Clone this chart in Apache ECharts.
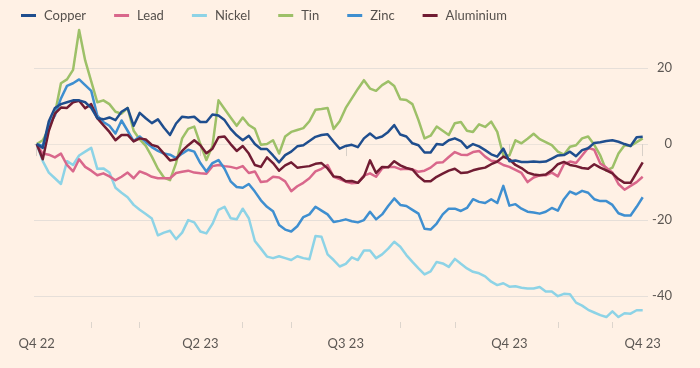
<!DOCTYPE html>
<html><head><meta charset="utf-8">
<style>html,body{margin:0;padding:0;background:#fff1e5;}#c{width:700px;height:368px;}</style>
<script src="https://cdn.jsdelivr.net/npm/echarts@6/dist/echarts.min.js"></script>
</head><body><div id="c"></div>
<script>
const seriesNames = ['Copper','Lead','Nickel','Tin','Zinc','Aluminium'];
const copper = [0,-1,6,9.5,10.5,11,11.5,11.5,11,9.5,6.8,6.5,7,6.3,8.5,9.5,4.8,8.2,6.8,5.5,6.5,4.3,2.4,5.4,7.2,7,7.2,5.8,5.8,7.8,7.5,6.3,4,2.3,1,2.2,0,-1.3,-1.3,-3,-4.8,-2.9,-2,-0.6,-0.3,0.8,1.9,2.4,2.6,0.6,-1.2,-0.5,-0.2,-0.8,1.5,2.8,1.5,2,3.2,5,2.5,2,0.2,-0.3,-2.2,-2.2,0,-0.2,1,1.5,0.8,-1,0,-0.6,-1.6,-2.7,-3.3,-1.2,-4.5,-4.3,-4.7,-4.7,-4.6,-4.7,-4.6,-3.8,-3,-2.9,-2,-3.2,-1.6,-1.1,0.3,0.5,0.8,1,0.6,0,-0.5,1.8,1.9];
const lead = [0,-2.5,-2.8,-3.5,-2.5,-5.5,-7.2,-4,-6,-7,-8.2,-7.7,-8.5,-9.5,-8.6,-7.5,-9,-7.2,-7.8,-8.6,-9,-9,-9,-7.6,-7.3,-7,-7.5,-7.7,-7.8,-5.8,-5.5,-5.8,-6,-6.4,-5.8,-7.6,-7.2,-10,-9.8,-8.6,-8.8,-9.8,-12.4,-11.1,-10.2,-9,-7.2,-6.5,-5.5,-8.6,-9.2,-9.9,-10.3,-10.2,-8.3,-7.7,-8.6,-6.4,-6,-6,-6.6,-6.5,-6.7,-7.3,-7,-6.2,-4.9,-4.8,-3.4,-2.1,-2.8,-2.9,-2.1,-1.8,-3.3,-4.4,-4.6,-5.5,-6,-6.8,-7.6,-10,-8.8,-8.2,-8.2,-7.5,-8.5,-5.3,-4.6,-5,-3,-1,-1.5,-5.1,-6.2,-7.5,-10.5,-12,-11,-10,-8.6];
const nickel = [0,-4.5,-7.5,-9,-10.5,-4.5,-5.5,-3,-2,-1,-6.5,-6.4,-7.5,-11.5,-12.8,-14,-16,-17.3,-18.4,-19.6,-24,-23.3,-22.8,-25,-23.3,-20,-20.6,-23,-23.5,-21,-17.3,-16.5,-19.5,-19.8,-17,-19.5,-25.5,-27.5,-29.6,-30,-29.5,-30,-30.5,-29.5,-30,-30.3,-24.2,-24.4,-29,-30.5,-32.2,-31.5,-29.8,-30.5,-28,-28,-30,-29,-27.5,-25.7,-27,-29.2,-31,-32.7,-34.3,-33.5,-31,-31.4,-32.3,-30.2,-31.5,-32.7,-33.6,-34,-34.8,-36.2,-37.1,-36.6,-37.5,-37.4,-37.8,-38,-38,-37.6,-38.8,-38.8,-40,-39.4,-39.5,-41.7,-42.5,-43.6,-44.3,-45,-45.5,-44,-45.5,-44.5,-44.6,-43.7,-43.7];
const tin = [0,1,4,8,16,17,19.5,30,22,16.5,11,11.5,10.5,8.5,8,9.5,3.5,1.2,-0.5,-3.3,-6.5,-8.8,-9.5,-5,1.5,4,4.6,0,-4.2,-0.5,11.5,9.2,7,4.8,7,5,4,-0.2,0,1,-2.5,2,3.2,3.7,4.2,6,9,9.2,9.5,4,6,9.5,12,14.5,16.8,14.6,14,15.5,16.5,15.3,11.8,11.6,10.5,6.3,1.5,2.2,4.6,3.5,2.4,5.5,5.8,3.5,3.2,5.2,4.5,5.9,3.2,-3,-3,1,0.2,1.4,2.7,1.3,0.5,-0.3,-2,-2.8,-0.7,-0.3,1.5,2,-0.2,-3,-7,-6.2,-2.5,-0.3,-0.5,0.5,1.5];
const zinc = [0,-0.5,5,7.5,12,15.3,16,17,15.5,14,7.5,5.8,4.8,2.8,6.2,3.5,0.8,2,0.5,-0.8,-1.8,-2.5,-2.8,-3.7,-2.5,-1.5,-2,-5,-7.2,-5,-4.2,-6.5,-9.8,-11.3,-11.5,-10.5,-12.5,-14.8,-16.5,-17.7,-21.3,-22.5,-23,-21.6,-19.2,-18.5,-16.5,-17.5,-18.5,-20.5,-20.2,-19.8,-20.3,-20.6,-20,-17.8,-19.8,-18.5,-16.3,-14.3,-16,-16.3,-17.3,-18.3,-22.3,-22.5,-20.9,-18.5,-17,-17,-17.6,-16.8,-14.5,-15.2,-15.5,-14.5,-15.5,-11,-16.2,-15.8,-17,-17.8,-18,-18.3,-17.8,-16.8,-17.5,-14.5,-12.5,-13.2,-12.3,-12.8,-14.5,-15,-15,-16,-18.2,-18.8,-18.8,-16.5,-14];
const aluminium = [0,-4,3.5,8,9.6,9.5,11,11.4,9.4,10.5,6.8,5,3.2,1,2.4,2.4,0.7,1.5,1.2,-0.2,-0.7,-2.5,-4.3,-4,-1.8,-0.3,1,-0.3,-2.4,-1.2,1.8,2,0,-1.8,-0.5,-2.5,-5.5,-6,-3.5,-5,-7,-5.6,-4.8,-6.2,-6,-5.8,-5.2,-5,-6.4,-8.5,-8.7,-9.8,-9.7,-10.2,-8.5,-4.3,-7.6,-6,-6.1,-4.5,-5.6,-6.3,-6.7,-8.5,-9.8,-9.8,-8.6,-7.8,-7,-6.5,-7.6,-7.5,-6.9,-6.5,-6.2,-5.3,-4.6,-3.3,-4,-5.5,-6.3,-7.5,-8,-8.2,-8,-6.9,-5.3,-4.7,-5.5,-5.8,-6.3,-6.5,-5.3,-6.2,-6.9,-7.7,-9.2,-10.2,-10.2,-7.5,-4.8];
const seriesValues = [copper, lead, nickel, tin, zinc, aluminium];
const seriesColors = ['#1f4e8e','#d9678b','#8dd3e6','#9dc068','#3f8fd0','#711c33'];
const seriesZ = [6,3,1,2,4,5];
const categories = copper.map((_, i) => String(i));
const majorTickIdx = [0,27,51,78,100];
const majorTickLabels = ['Q4 22','Q2 23','Q3 23','Q4 23','Q4 23'];
const minorTickIdx = [9,17,34,42,60,69,86,95];
const yMin = -46.8, yMax = 32;

const FONT = 'Lato';
const TEXT = '#5c5753';
const chart = echarts.init(document.getElementById('c'), null, {renderer: 'canvas'});
chart.setOption({
  backgroundColor: '#fff1e5',
  animation: false,
  textStyle: {fontFamily: FONT},
  legend: {
    left: 16, top: 4, icon: 'rect', itemWidth: 15, itemHeight: 3, itemGap: 28,
    data: seriesNames,
    textStyle: {fontFamily: FONT, fontSize: 13, color: '#55504c', padding: [0,0,0,3]}
  },
  grid: [
    {left: 36.7, right: 57.3, top: 22.4, bottom: 46, outerBoundsMode: 'none'},
    {left: 34, right: 52, top: 22.4, bottom: 46, outerBoundsMode: 'none'}
  ],
  xAxis: [
    {
      type: 'category', gridIndex: 0, data: categories, boundaryGap: false, position: 'bottom',
      axisLine: {show: true, lineStyle: {color: '#ece3da', width: 1}},
      axisTick: {show: true, length: 12, lineStyle: {color: '#d8d0c8'},
        interval: (i) => majorTickIdx.includes(i)},
      axisLabel: {show: true, margin: 15, fontFamily: FONT, fontSize: 13, color: TEXT,
        interval: (i) => majorTickIdx.includes(i),
        formatter: (v, i) => { const k = majorTickIdx.indexOf(i); return k >= 0 ? majorTickLabels[k] : ''; }},
      splitLine: {show: false}
    },
    {
      type: 'category', gridIndex: 0, data: categories, boundaryGap: false, position: 'bottom',
      axisLine: {show: false},
      axisTick: {show: true, length: 6, lineStyle: {color: '#ddd5cd'},
        interval: (i) => minorTickIdx.includes(i)},
      axisLabel: {show: false}, splitLine: {show: false}
    },
    {type: 'value', gridIndex: 1, min: 0, max: 1, show: false}
  ],
  yAxis: [
    {type: 'value', gridIndex: 0, min: yMin, max: yMax, show: false, splitLine: {show: false}},
    {
      type: 'value', gridIndex: 1, min: yMin, max: yMax, position: 'right',
      axisLine: {show: false}, axisTick: {show: false},
      axisLabel: {show: true, align: 'right', margin: 24, fontFamily: FONT, fontSize: 13, color: TEXT,
        showMinLabel: false, showMaxLabel: false},
      splitLine: {show: true, showMinLine: false, showMaxLine: false, lineStyle: {color: '#e6dfd9', width: 1}}
    }
  ],
  series: seriesNames.map((name, k) => ({
    name, type: 'line', xAxisIndex: 0, yAxisIndex: 0, data: seriesValues[k],
    showSymbol: false, symbol: 'none', z: seriesZ[k], color: seriesColors[k],
    lineStyle: {width: 2.5, color: seriesColors[k], join: 'round'},
    emphasis: {disabled: true}
  }))
});
</script></body></html>
